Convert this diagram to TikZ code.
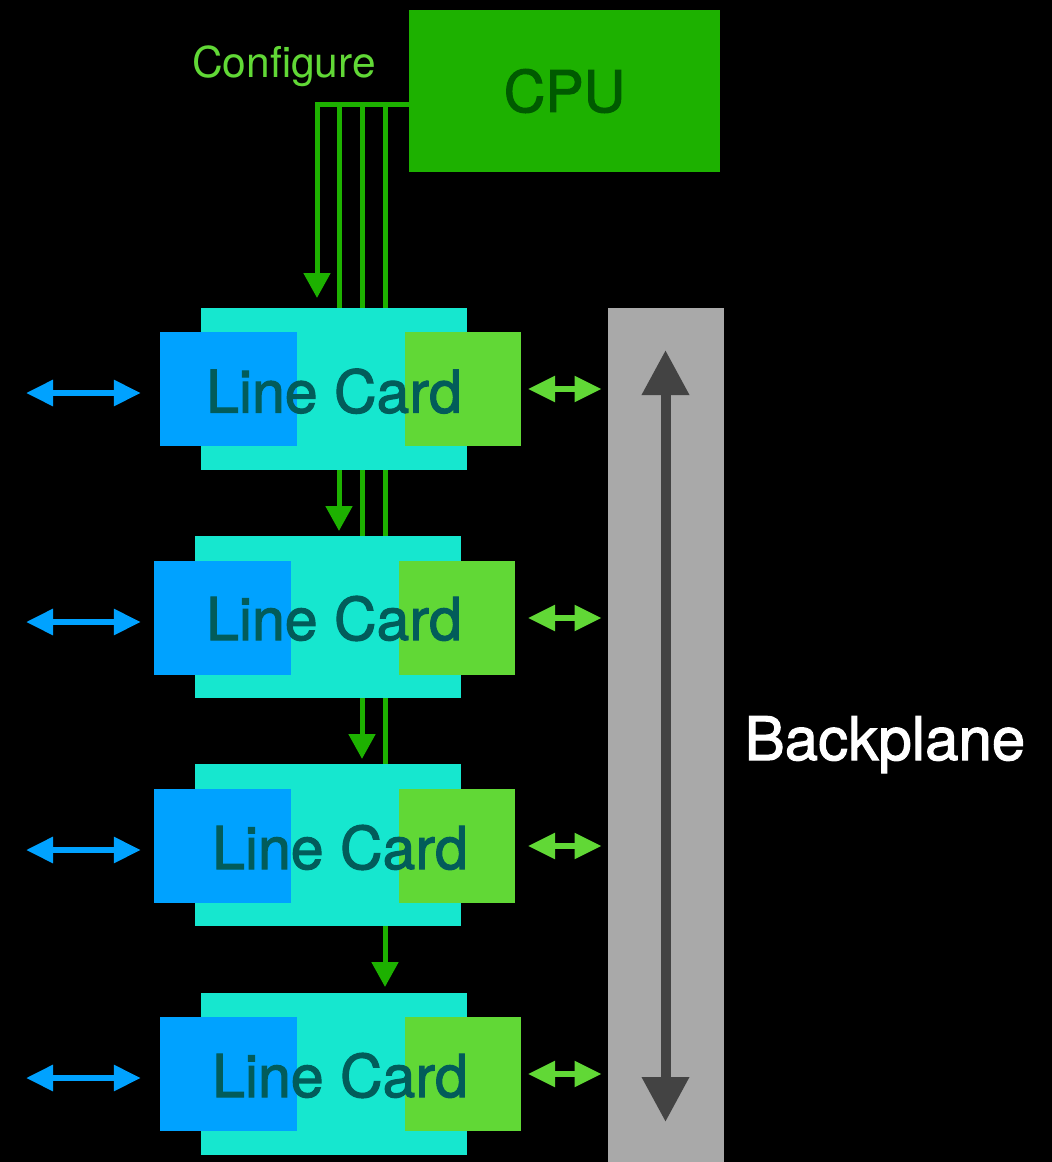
\documentclass[tikz,border=0pt]{standalone}
\usepackage{fontspec}
\setmainfont{TeX Gyre Heros}
\newfontfamily\mediumfont{TeX Gyre Heros}[FakeBold=1.8]
\usetikzlibrary{arrows.meta}

\definecolor{cpugreen}{HTML}{1DB100}
\definecolor{cputext}{HTML}{005A00}
\definecolor{lightgreen}{HTML}{61D836}
\definecolor{cardcyan}{HTML}{16E7CF}
\definecolor{portblue}{HTML}{00A2FF}
\definecolor{cardtext}{HTML}{025C5A}
\definecolor{bpgray}{HTML}{A9A9A9}
\definecolor{bparrow}{HTML}{434343}

\pgfdeclarelayer{canvas}
\pgfdeclarelayer{wires}
\pgfsetlayers{canvas,wires,main}

\begin{document}
\begin{tikzpicture}[x=1pt,y=-1pt,
  box/.style={inner sep=0pt, outer sep=0pt, draw=none},
  cardbody/.style={box, fill=cardcyan, minimum width=266pt, minimum height=162pt},
  phy/.style={box, fill=portblue, minimum width=137pt, minimum height=114pt},
  fab/.style={box, fill=lightgreen, minimum width=116pt, minimum height=114pt},
  cardlabel/.style={inner sep=0pt, anchor=base, text=cardtext,
    font=\mediumfont\fontsize{59}{60}\selectfont},
  cfg/.style={draw=cpugreen, line width=5pt, -{Triangle[length=25pt,width=26pt]}},
  extlink/.style={draw=portblue, line width=6pt,
    {Triangle[length=27pt,width=25pt]}-{Triangle[length=27pt,width=25pt]}},
  bplink/.style={draw=lightgreen, line width=5.5pt,
    {Triangle[length=27pt,width=25pt]}-{Triangle[length=27pt,width=25pt]}},
  busarrow/.style={draw=bparrow, line width=10pt,
    {Triangle[length=45pt,width=45pt]}-{Triangle[length=45pt,width=45pt]}},
]
% canvas
\useasboundingbox (0,0) rectangle (1052,1162);
\begin{pgfonlayer}{canvas}
  \fill[black] (0,0) rectangle (1052,1162);
\end{pgfonlayer}

% CPU
\node[box, fill=cpugreen, minimum width=311pt, minimum height=162pt,
      text=cputext, font=\mediumfont\fontsize{57.5}{58}\selectfont] (cpu) at (564.5,91) {CPU};
\node[anchor=base, inner sep=0pt, text=lightgreen,
      font=\fontsize{42.5}{43}\selectfont] (cfglabel) at (284,77.3) {Configure};

% line card bodies
\node[cardbody] (c1) at (334,389) {};
\node[cardbody] (c2) at (328,617) {};
\node[cardbody] (c3) at (328,845) {};
\node[cardbody] (c4) at (334,1074) {};

% port (blue) and fabric (green) blocks
\node[phy] (p1) at (228.5,389) {};
\node[phy] (p2) at (222,618) {};
\node[phy] (p3) at (222,846) {};
\node[phy] (p4) at (228.5,1074) {};
\node[fab] (f1) at (463,389) {};
\node[fab] (f2) at (457,618) {};
\node[fab] (f3) at (457,846) {};
\node[fab] (f4) at (463,1074) {};

% card labels
\node[cardlabel] (t1) at (334,412.7) {Line Card};
\node[cardlabel] (t2) at (334,640) {Line Card};
\node[cardlabel] (t3) at (340,869) {Line Card};
\node[cardlabel] (t4) at (340,1097) {Line Card};

% backplane
\node[box, fill=bpgray, minimum width=116pt, minimum height=854pt,
      anchor=north west] (bp) at (607.5,308) {};
\draw[busarrow] ([yshift=-42pt]bp.north) -- ([yshift=40pt]bp.south);
\node[anchor=base, inner sep=0pt, text=white,
      font=\mediumfont\fontsize{60}{61}\selectfont] (bplabel) at (885,760) {Backplane};

% configuration bus from the CPU, running behind the cards
\coordinate (tap) at ([yshift=-13pt]cpu.west);
\coordinate (d2) at (339,104);
\coordinate (d3) at (362,104);
\coordinate (d4) at (385,104);
\begin{pgfonlayer}{wires}
  \draw[cfg, shorten >=10pt] (tap) -| ([xshift=-17pt]c1.north);
  \draw[cfg, shorten >=5pt] (d2) -- (d2 |- c2.north);
  \draw[cfg, shorten >=5pt] (d3) -- (d3 |- c3.north);
  \draw[cfg, shorten >=6pt] (d4) -- (d4 |- c4.north);
\end{pgfonlayer}

% external ports
\coordinate (e1) at (26,393);
\coordinate (e2) at (26,622);
\coordinate (e3) at (26,850);
\coordinate (e4) at (26,1078);
\draw[extlink, shorten >=19.2pt] (e1) -- (e1 -| p1.west);
\draw[extlink, shorten >=12.7pt] (e2) -- (e2 -| p2.west);
\draw[extlink, shorten >=12.7pt] (e3) -- (e3 -| p3.west);
\draw[extlink, shorten >=19.2pt] (e4) -- (e4 -| p4.west);

% links to the backplane
\draw[bplink, shorten <=7pt,  shorten >=6pt] (f1.east) -- (f1.east -| bp.west);
\draw[bplink, shorten <=13pt, shorten >=6pt] (f2.east) -- (f2.east -| bp.west);
\draw[bplink, shorten <=13pt, shorten >=6pt] (f3.east) -- (f3.east -| bp.west);
\draw[bplink, shorten <=7pt,  shorten >=6pt] (f4.east) -- (f4.east -| bp.west);
\end{tikzpicture}
\end{document}
